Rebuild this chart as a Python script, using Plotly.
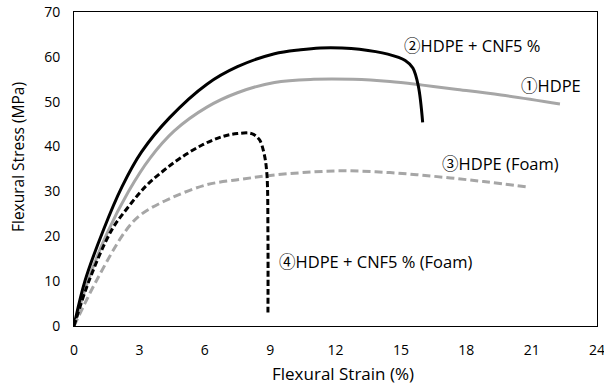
import plotly.graph_objects as go

# ① HDPE (gray solid)
hdpe_x = [0, 0.6, 1.5, 2.5, 3.5, 4.6, 6.1, 7.5, 9.2, 11.0, 12.8, 14.5, 16.0, 17.5, 19.6, 22.3]
hdpe_y = [0, 9.5, 20.5, 30.0, 37.5, 43.5, 48.8, 52.0, 54.3, 55.0, 55.0, 54.5, 53.7, 52.8, 51.5, 49.5]

# ② HDPE + CNF5 % (black solid)
cnf_x = [0, 0.5, 1.35, 2.2, 3.1, 4.4, 6.1, 7.5, 9.2, 10.4, 11.3, 12.3, 13.1, 14.4, 15.2, 15.55, 15.8, 16.0]
cnf_y = [0, 10.0, 21.4, 31.0, 38.8, 46.5, 53.9, 57.8, 60.7, 61.6, 62.0, 62.0, 61.7, 60.6, 59.2, 57.5, 53.5, 45.4]

# ③ HDPE (Foam) (gray dashed)
hdpe_foam_x = [0, 1.04, 2.34, 3.06, 4.4, 6.1, 7.66, 8.9, 10.5, 12.36, 14.5, 16.66, 18.8, 20.8]
hdpe_foam_y = [0, 10.2, 21.0, 24.8, 28.4, 31.5, 32.7, 33.5, 34.2, 34.6, 34.2, 33.3, 32.2, 31.0]

# ④ HDPE + CNF5 % (Foam) (black dashed)
cnf_foam_x = [0, 0.7, 1.73, 2.5, 3.3, 4.1, 4.9, 5.9, 6.8, 7.5, 8.15, 8.5, 8.72, 8.85, 8.9, 8.9]
cnf_foam_y = [0, 10.2, 21.4, 26.6, 31.2, 34.6, 37.5, 40.4, 42.2, 42.9, 42.9, 41.6, 38.5, 34.0, 20.0, 3.0]

x_ticks = [0, 3, 6, 9, 12, 15, 18, 21, 24]
y_ticks = [0, 10, 20, 30, 40, 50, 60, 70]

labels = ["①HDPE", "②HDPE + CNF5 %", "③HDPE (Foam)", "④HDPE + CNF5 % (Foam)"]
label_x = [20.4, 15.07, 16.8, 9.31]
label_y = [53.7, 62.6, 36.3, 14.3]

x_title = "Flexural Strain (%)"
y_title = "Flexural Stress (MPa)"

GRAY = "#A6A6A6"
FONT = "Open Sans, Noto Sans CJK JP, sans-serif"
W, H = 604, 387
ML, MT = 74, 12
MR = W - 597
MB = H - 326

fig = go.Figure()
fig.add_trace(go.Scatter(x=hdpe_x, y=hdpe_y, mode="lines",
                         line=dict(color=GRAY, width=3, shape="spline", smoothing=1)))
fig.add_trace(go.Scatter(x=cnf_x, y=cnf_y, mode="lines",
                         line=dict(color="black", width=3, shape="spline", smoothing=1)))
fig.add_trace(go.Scatter(x=hdpe_foam_x, y=hdpe_foam_y, mode="lines",
                         line=dict(color=GRAY, width=3, dash="8px,4px", shape="spline", smoothing=1)))
fig.add_trace(go.Scatter(x=cnf_foam_x, y=cnf_foam_y, mode="lines",
                         line=dict(color="black", width=3, dash="6px,3px", shape="spline", smoothing=1)))

for t, lx, ly in zip(labels, label_x, label_y):
    fig.add_annotation(x=lx, y=ly, xref="x", yref="y", text=t, showarrow=False,
                       xanchor="left", yanchor="middle",
                       font=dict(family=FONT, size=16.5, color="black"))

pw = W - ML - MR
ph = H - MT - MB
# axis titles (placed slightly off-centre as in the reference), pixel coords -> paper
xt_px, xt_py = 343, 373
yt_px, yt_py = 18, 157
fig.add_annotation(x=(xt_px - ML) / pw, y=(H - MB - xt_py) / ph, xref="paper", yref="paper",
                   text=x_title, showarrow=False, xanchor="center", yanchor="middle",
                   font=dict(family=FONT, size=17, color="black"))
fig.add_annotation(x=(yt_px - ML) / pw, y=(H - MB - yt_py) / ph, xref="paper", yref="paper",
                   text=y_title, showarrow=False, xanchor="center", yanchor="middle",
                   textangle=-90, font=dict(family=FONT, size=15.5, color="black"))

fig.update_layout(
    width=W, height=H,
    margin=dict(l=ML, r=MR, t=MT, b=MB, autoexpand=False),
    paper_bgcolor="white", plot_bgcolor="white",
    showlegend=False,
    font=dict(family=FONT, size=14, color="black"),
)
fig.update_xaxes(range=[0, 24], tickvals=x_ticks, showgrid=False, zeroline=False,
                 showline=True, linecolor="black", linewidth=1, mirror=True,
                 ticks="outside", ticklen=11, tickcolor="rgba(0,0,0,0)", automargin=False,
                 ticklabeloverflow="allow")
fig.update_yaxes(range=[0, 70], tickvals=y_ticks, showgrid=False, zeroline=False,
                 showline=True, linecolor="black", linewidth=1, mirror=True,
                 ticks="outside", ticklen=10, tickcolor="rgba(0,0,0,0)", automargin=False,
                 ticklabeloverflow="allow")

fig.write_html("out.html", config={"displayModeBar": False},
               post_script="document.body.style.margin='0';")
